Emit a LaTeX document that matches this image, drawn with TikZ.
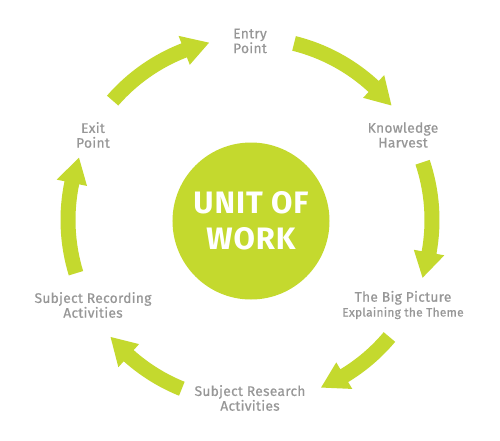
\documentclass[tikz,border=0pt]{standalone}
\usepackage{fontspec}
\setmainfont{Fira Sans}
\usetikzlibrary{calc}
\definecolor{lime}{HTML}{C4D92E}
\definecolor{labgray}{HTML}{979797}
\tikzset{
  lab/.style={text=labgray, align=center, font=\fontsize{13.8}{14.8}\selectfont\addfontfeatures{LetterSpace=2,FakeBold=0.6}, inner sep=0pt},
  cyclearrow/.style={fill=lime, draw=none},
}
% #1 tail angle, #2 tip angle
\newcommand{\cycarrow}[2]{%
  \pgfmathsetmacro{\ab}{#2+8.2}%
  \fill[cyclearrow] (#1:189.5pt) arc[start angle=#1, end angle=\ab, radius=189.5pt]
     -- (\ab:197.5pt) -- (#2:182pt) -- (\ab:166.5pt) -- (\ab:174.5pt)
     arc[start angle=\ab, end angle=#1, radius=174.5pt] -- cycle;}
\begin{document}
\begin{tikzpicture}
\useasboundingbox (-250pt,-220pt) rectangle (250pt,220pt);
\fill[white] (-250pt,-220pt) rectangle (250pt,220pt);
\node[circle, fill=lime, minimum size=157pt, inner sep=0pt] (unit) at (1pt,-1pt) {};
\node[text=white, align=center, font=\fontsize{31}{36}\selectfont\bfseries\addfontfeatures{LetterSpace=3}, inner sep=0pt] (unittext) at (1pt,-1pt) {UNIT OF\\WORK};
\cycarrow{76}{39}
\cycarrow{18.5}{-18.5}
\cycarrow{-40}{-67}
\cycarrow{-112}{-140}
\cycarrow{-163}{-200}
\cycarrow{139}{103}
\node[lab] (entry) at (0pt,179pt) {Entry\\Point};
\node[lab] (know) at (153pt,85pt) {Knowledge\\Harvest};
\node[lab] (big) at (153pt,-85pt) {The Big Picture\\{\fontsize{12}{13}\selectfont\addfontfeatures{LetterSpace=2,FakeBold=0.6} Explaining the Theme}};
\node[lab] (research) at (0pt,-178pt) {Subject Research\\Activities};
\node[lab] (recording) at (-157pt,-85pt) {Subject Recording\\Activities};
\node[lab] (exit) at (-157pt,85pt) {Exit\\Point};
\end{tikzpicture}
\end{document}
